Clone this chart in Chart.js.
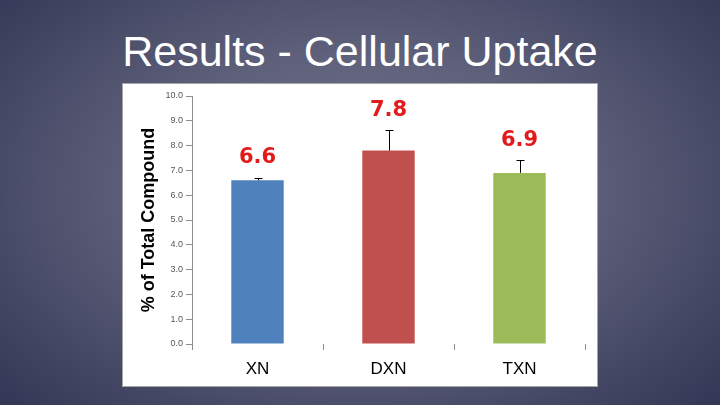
<!DOCTYPE html>
<html>
<head>
<meta charset="utf-8">
<script src="https://cdn.jsdelivr.net/npm/chart.js@4.4.1/dist/chart.umd.min.js"></script>
<style>
  html, body { margin: 0; padding: 0; }
  body {
    width: 720px; height: 405px; overflow: hidden; position: relative;
    background: radial-gradient(ellipse 75% 85% at 50% 47%, #75778e 0%, #5f617b 40%, #2b2f4e 100%);
    font-family: "Liberation Sans", Arial, sans-serif;
  }
  #title {
    position: absolute; left: 0; top: 30px; width: 720px; text-align: center;
    color: #ffffff; font-size: 43px; line-height: 43px; white-space: nowrap;
  }
  #panel {
    position: absolute; left: 122px; top: 83px; width: 476px; height: 304px;
    box-sizing: border-box; background: #ffffff; border: 1px solid #a6a6a6;
  }
  #wrap {
    position: absolute; left: 122px; top: 83px; width: 476px; height: 304px;
  }
</style>
</head>
<body>
<div id="title">Results - Cellular Uptake</div>
<div id="panel"></div>
<div id="wrap"><canvas id="c"></canvas></div>
<script>
const categories = ['XN', 'DXN', 'TXN'];
const values = [6.6, 7.8, 6.9];
const errors = [0.1, 0.82, 0.5];
const barColors = ['#4f81bd', '#c0504d', '#9bbb59'];
const yMin = 0, yMax = 10, yStep = 1;
const yTitle = '% of Total Compound';

const errorAndLabels = {
  id: 'errorAndLabels',
  afterDatasetsDraw(chart) {
    const ctx = chart.ctx;
    const ys = chart.scales.y;
    const meta = chart.getDatasetMeta(0);
    ctx.save();
    meta.data.forEach((el, i) => {
      const v = values[i];
      const top = ys.getPixelForValue(v + errors[i]);
      const x = Math.round(el.x) + 0.5;
      ctx.strokeStyle = '#000000';
      ctx.lineWidth = 1;
      ctx.beginPath();
      ctx.moveTo(x, el.y);
      ctx.lineTo(x, Math.round(top) + 0.5);
      ctx.moveTo(x - 4, Math.round(top) + 0.5);
      ctx.lineTo(x + 4, Math.round(top) + 0.5);
      ctx.stroke();
      ctx.fillStyle = '#e21a1a';
      ctx.font = 'bold 21px "DejaVu Sans", Verdana, sans-serif';
      ctx.textAlign = 'center';
      ctx.textBaseline = 'middle';
      ctx.fillText(v.toFixed(1), el.x, top - 20);
    });
    ctx.restore();
  }
};

new Chart(document.getElementById('c'), {
  type: 'bar',
  data: {
    labels: categories,
    datasets: [{
      data: values,
      backgroundColor: barColors,
      borderWidth: 0,
      barPercentage: 0.4,
      categoryPercentage: 1.0
    }]
  },
  options: {
    responsive: true,
    maintainAspectRatio: false,
    animation: false,
    devicePixelRatio: 1,
    layout: { padding: { top: 13, right: 13, left: 0, bottom: 0 } },
    plugins: { legend: { display: false }, tooltip: { enabled: false } },
    scales: {
      x: {
        grid: { display: true, drawOnChartArea: false, offset: true, tickLength: 6, color: '#8c8c8c' },
        border: { display: false },
        ticks: {
          color: '#000000', padding: 9,
          font: { family: '"Liberation Sans", Arial, sans-serif', size: 17 }
        },
        afterFit(s) { s.height = 43; }
      },
      y: {
        min: yMin, max: yMax,
        grid: { drawOnChartArea: false, tickLength: 6, color: '#8c8c8c' },
        border: { display: true, color: '#8c8c8c', width: 1 },
        ticks: {
          stepSize: yStep, padding: 3, color: '#555555',
          font: { family: '"Liberation Sans", Arial, sans-serif', size: 9 },
          callback: (v) => Number(v).toFixed(1)
        },
        title: {
          display: true, text: yTitle, color: '#000000',
          padding: { top: 16, bottom: 0 },
          font: { family: '"Liberation Sans", Arial, sans-serif', size: 18, weight: 'bold' }
        },
        afterFit(s) { s.width = 70; }
      }
    }
  },
  plugins: [errorAndLabels]
});
</script>
</body>
</html>
